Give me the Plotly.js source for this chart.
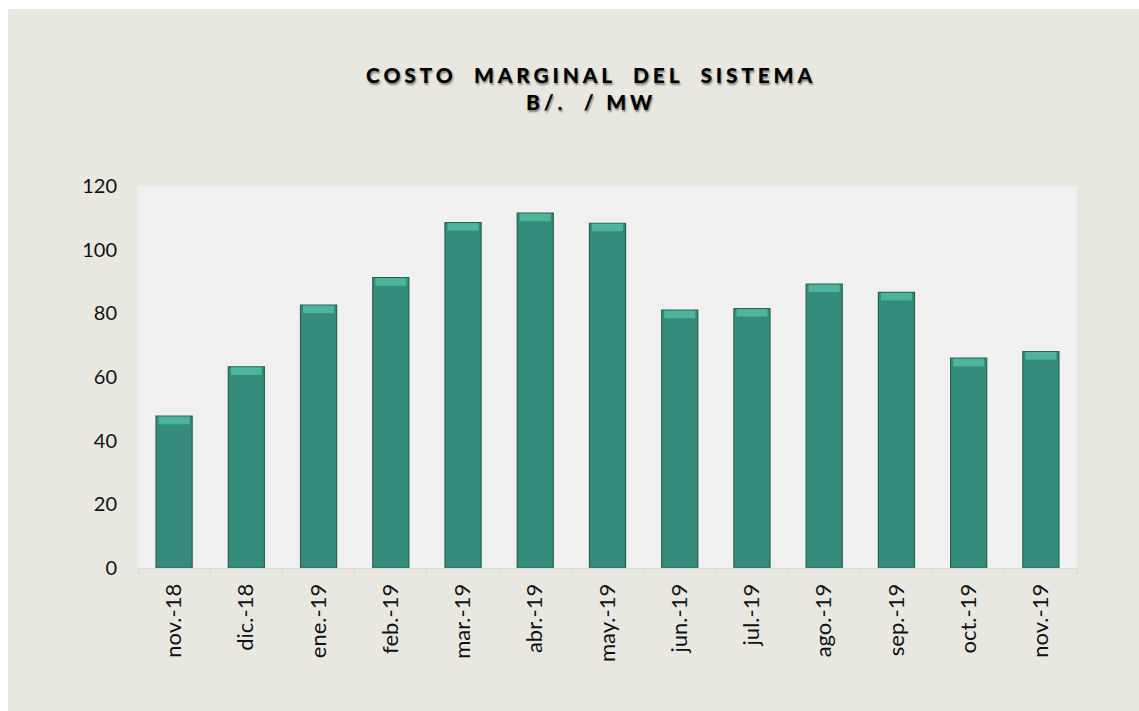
<!DOCTYPE html>
<html>
<head>
<meta charset="utf-8">
<script src="https://cdn.plot.ly/plotly-3.0.1.min.js"></script>
<style>
  html, body { margin: 0; padding: 0; background: #ffffff; }
  #chart { position: absolute; left: 8px; top: 9px; width: 1131px; height: 702px; }
</style>
</head>
<body>
<div id="chart"></div>
<script>
// Data
const months = ["nov.-18", "dic.-18", "ene.-19", "feb.-19", "mar.-19", "abr.-19", "may.-19",
                "jun.-19", "jul.-19", "ago.-19", "sep.-19", "oct.-19", "nov.-19"];
const costo = [47.7, 63.2, 82.6, 91.2, 108.5, 111.5, 108.3, 81.0, 81.5, 89.2, 86.6, 65.9, 68.0];
const yTicks = [0, 20, 40, 60, 80, 100, 120];

const bevel = 2.4;
const bars = {
  type: "bar",
  x: months,
  y: costo,
  marker: { color: "#358C7B", line: { color: "#2A6156", width: 1.2 } },
  hoverinfo: "x+y",
  showlegend: false
};
const highlight = {
  type: "bar",
  x: months,
  y: costo.map(() => bevel),
  base: costo.map(v => v - bevel - 0.15),
  marker: { color: "#4DB59C", line: { width: 0 } },
  width: 0.43,
  hoverinfo: "skip",
  showlegend: false
};

const tickFont = { family: "Lato, 'Open Sans', sans-serif", size: 20, color: "#111111" };

const layout = {
  width: 1131,
  height: 702,
  paper_bgcolor: "#E9E8E0",
  plot_bgcolor: "#F0F0F0",
  margin: { l: 130, r: 62, t: 177, b: 143 },
  barmode: "overlay",
  bargap: 0.5,
  title: {
    text: "COSTO\u00a0\u00a0MARGINAL\u00a0\u00a0DEL\u00a0\u00a0SISTEMA<br>B/.\u00a0\u00a0/ MW",
    font: { family: "Lato, 'Open Sans', sans-serif", size: 21, weight: 900, color: "#000000",
            shadow: "1px 2px 2px rgba(0,0,0,0.45)" },
    x: 0.5155, xref: "container", xanchor: "center",
    y: 1 - 74 / 702, yref: "container", yanchor: "top"
  },
  xaxis: {
    type: "category",
    tickangle: -90,
    tickfont: Object.assign({}, tickFont, { size: 22 }),
    showline: true,
    linecolor: "#D9D9D9",
    linewidth: 1,
    ticks: "outside",
    tickson: "boundaries",
    ticklen: 5,
    tickcolor: "#D9D9D9",
    ticklabelstandoff: 6,
    showgrid: false,
    zeroline: false
  },
  yaxis: {
    range: [0, 120],
    tickvals: yTicks,
    ticktext: yTicks.map(String),
    tickfont: tickFont,
    showgrid: false,
    zeroline: false,
    showline: false,
    ticks: "",
    ticklabelstandoff: 20
  }
};

Plotly.newPlot("chart", [bars, highlight], layout, { displayModeBar: false, staticPlot: true }).then(() => {
  const t = document.querySelector("#chart .gtitle");
  if (t) t.style.letterSpacing = "3.8px";
});
</script>
</body>
</html>
